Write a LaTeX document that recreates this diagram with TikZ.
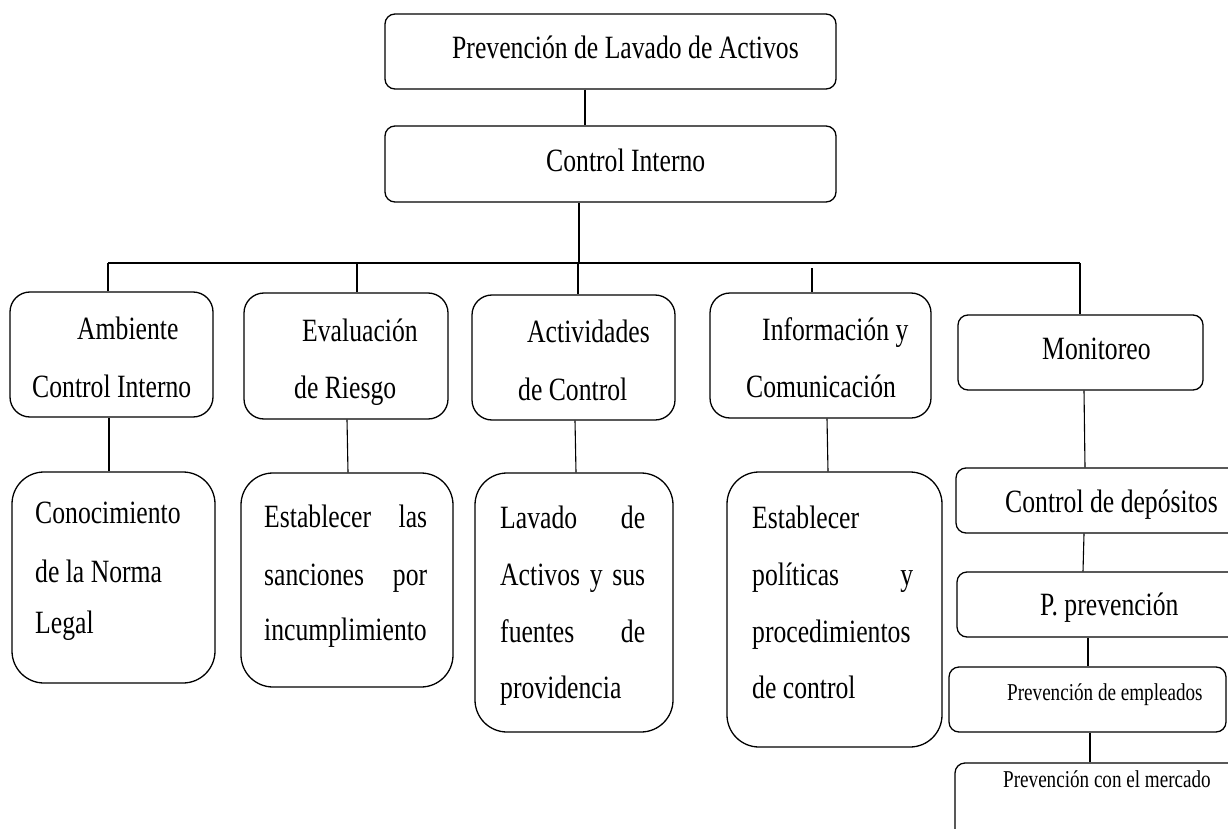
\documentclass[tikz,border=0pt]{standalone}
\usepackage{fontspec}
\setmainfont[FakeStretch=0.79]{Liberation Serif}
\begin{document}
\begin{tikzpicture}[x=1pt,y=-1pt,
  box/.style={draw=black, line width=1.3pt, rectangle, inner sep=0pt},
  r1/.style={box, rounded corners=10pt},
  r2/.style={box, rounded corners=20pt},
  r3/.style={box, rounded corners=32pt},
  conn/.style={draw=black, line width=1.1pt},
  txt/.style={anchor=base west, inner sep=0pt, font=\fontsize{32.5}{40}\selectfont},
  stxt/.style={anchor=base west, inner sep=0pt, font=\fontsize{24.2}{30}\selectfont}]
\clip (0,0) rectangle (1228,829);
\fill[white] (0,0) rectangle (1228,829);
% boxes: (x1,y1) to (x2,y2)
\newcommand{\bx}[6]{\node[#1, minimum width=#5-#3, minimum height=#6-#4] (#2) at ({(#3+#5)/2},{(#4+#6)/2}) {};}
\bx{r1}{top}{385}{14}{836}{89}
\bx{r1}{ci}{385}{126}{836}{202}
\bx{r2}{amb}{10}{292}{213}{417}
\bx{r2}{eva}{244}{293}{448}{419}
\bx{r2}{act}{472}{295}{675}{420}
\bx{r2}{inf}{710}{293}{931}{418}
\bx{r1}{mon}{958}{315}{1203}{390}
\bx{r3}{con}{12}{472}{215}{683}
\bx{r3}{est}{241}{473}{453}{687}
\bx{r3}{lav}{475}{473}{673}{732}
\bx{r3}{pol}{727}{472}{942}{747}
\bx{r1}{dep}{956}{468}{1245}{533}
\bx{r1}{pp}{957}{572}{1245}{637}
\bx{r1}{emp}{949}{667}{1226}{732}
\bx{r1}{mer}{955}{763}{1245}{850}
% texts
\node[txt] (ttop) at (452,59) {Prevención de Lavado de Activos};
\node[txt] (tci) at (546,172) {Control Interno};
\node[txt] (tamb1) at (77,339) {Ambiente};
\node[txt] (tamb2) at (32,397) {Control Interno};
\node[txt] (teva1) at (302,341) {Evaluación};
\node[txt] (teva2) at (294,398) {de Riesgo};
\node[txt] (tact1) at (527,342) {Actividades};
\node[txt] (tact2) at (518,400) {de Control};
\node[txt] (tinf1) at (762,340) {Información y};
\node[txt] (tinf2) at (746,397) {Comunicación};
\node[txt] (tmon) at (1042,359) {Monitoreo};
\node[txt] (tcon1) at (35,523) {Conocimiento};
\node[txt] (tcon2) at (35,582) {de la Norma};
\node[txt] (tcon3) at (35,633) {Legal};
\node[txt] (test1) at (264,527) {\makebox[163pt][s]{Establecer las}};
\node[txt] (test2) at (264,585) {\makebox[163pt][s]{sanciones por}};
\node[txt] (test3) at (264,640) {incumplimiento};
\node[txt] (tlav1) at (500,528) {\makebox[145pt][s]{Lavado de}};
\node[txt] (tlav2) at (500,585) {\makebox[145pt][s]{Activos y sus}};
\node[txt] (tlav3) at (500,642) {\makebox[145pt][s]{fuentes de}};
\node[txt] (tlav4) at (500,698) {providencia};
\node[txt] (tpol1) at (752,528) {Establecer};
\node[txt] (tpol2) at (752,585) {\makebox[161pt][s]{políticas y}};
\node[txt] (tpol3) at (752,642) {procedimientos};
\node[txt] (tpol4) at (752,698) {de control};
\node[txt] (tdep) at (1005,512) {Control de depósitos};
\node[txt] (tpp) at (1040,615) {P. prevención};
\node[stxt] (temp) at (1007,700) {Prevención de empleados};
\node[stxt] (tmer) at (1003,787) {Prevención con el mercado};
% connectors
\coordinate (hb) at (579,263);
\draw[conn] (585,0 |- top.south) -- (585,0 |- ci.north);
\draw[conn] (579,0 |- ci.south) -- (hb);
\draw[conn] (108,263) -- (1080,263);
\draw[conn] (108,263) -- (108,0 |- amb.north);
\draw[conn] (357,263) -- (357,0 |- eva.north);
\draw[conn] (578,263) -- (578,0 |- act.north);
\draw[conn] (812,268) -- (812,0 |- inf.north);
\draw[conn] (1080,263) -- (1080,0 |- mon.north);
\draw[conn] (109,0 |- amb.south) -- (109,0 |- con.north);
\draw[conn] (347,0 |- eva.south) -- (348,0 |- est.north);
\draw[conn] (575,0 |- act.south) -- (576,0 |- lav.north);
\draw[conn] (827,0 |- inf.south) -- (828,0 |- pol.north);
\draw[conn] (1084,0 |- mon.south) -- (1085,0 |- dep.north);
\draw[conn] (1084,0 |- dep.south) -- (1083,0 |- pp.north);
\draw[conn] (1088,0 |- pp.south) -- (1088,0 |- emp.north);
\draw[conn] (1090,0 |- emp.south) -- (1090,0 |- mer.north);
\end{tikzpicture}
\end{document}
